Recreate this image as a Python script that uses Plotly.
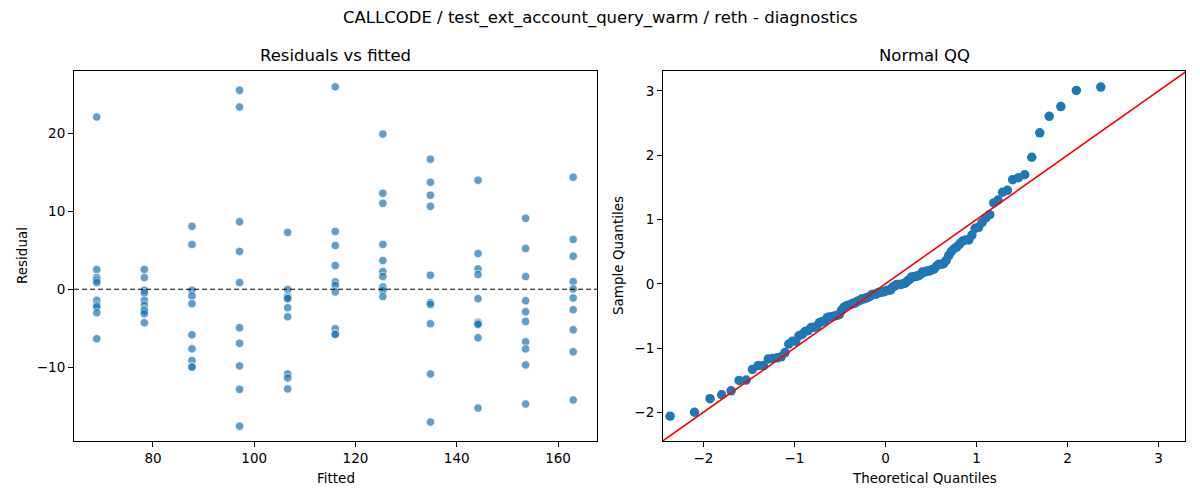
import plotly.graph_objects as go
from statistics import NormalDist
import numpy as np

# ---- data ----
fitted_levels = [68.9, 78.3, 87.7, 97.1, 106.6, 116.0, 125.4, 134.8, 144.2, 153.6, 163.0]

resid_by_level = [
    [22.15, 2.54, 1.51, 1.16, 0.86, -1.42, -2.06, -2.28, -3.00, -6.36],
    [2.54, 1.51, -0.13, -0.47, -1.42, -2.06, -2.62, -2.80, -3.14, -4.30],
    [8.09, 5.77, -0.13, -0.86, -1.85, -5.85, -7.65, -9.16, -9.94, -10.00],
    [25.59, 23.44, 8.68, 4.86, 0.86, -4.94, -6.93, -9.85, -12.86, -17.59],
    [7.31, -0.04, -0.90, -1.10, -1.20, -2.36, -3.52, -10.88, -11.40, -12.80],
    [26.03, 7.44, 5.63, 3.05, 0.95, 0.52, -0.34, -5.07, -5.72, -5.81],
    [19.96, 12.34, 11.05, 5.77, 3.70, 2.28, 1.64, 0.30, -0.13, -0.94],
    [16.73, 13.76, 12.09, 10.67, 1.81, -1.72, -1.94, -4.43, -10.88, -17.07],
    [14.02, 4.60, 2.62, 1.89, -1.20, -4.22, -4.40, -4.52, -6.24, -15.27],
    [9.12, 5.25, 1.64, -1.46, -2.88, -4.13, -6.75, -7.66, -9.72, -14.75],
    [14.41, 6.41, 4.26, 0.99, 0.04, -1.12, -2.62, -5.20, -8.04, -14.23],
]

left_xticks = [80, 100, 120, 140, 160]
left_yticks = [-10, 0, 10, 20]
qq_ticks = [-2, -1, 0, 1, 2, 3]

title_text = "CALLCODE / test_ext_account_query_warm / reth - diagnostics"

# ---- derived series ----
fitted = []
resid = []
for f, rs in zip(fitted_levels, resid_by_level):
    for r in rs:
        fitted.append(f)
        resid.append(r)

r_arr = np.array(resid)
sample_q = np.sort((r_arr - r_arr.mean()) / r_arr.std())
n = len(sample_q)
nd = NormalDist()
theo_q = [nd.inv_cdf(i / (n + 1)) for i in range(1, n + 1)]

BLUE = "#1f77b4"
FONT = "DejaVu Sans"

fig = go.Figure()

fig.add_trace(go.Scatter(
    x=fitted, y=resid, mode="markers", xaxis="x", yaxis="y",
    marker=dict(color=BLUE, size=8.5, opacity=0.7, line=dict(color="white", width=0.8)),
    showlegend=False, hoverinfo="x+y"))

fig.add_trace(go.Scatter(
    x=[64.4, 167.7], y=[0, 0], mode="lines", xaxis="x", yaxis="y",
    line=dict(color="black", width=1.1, dash="5px,3px"),
    showlegend=False, hoverinfo="skip"))

fig.add_trace(go.Scatter(
    x=theo_q, y=list(sample_q), mode="markers", xaxis="x2", yaxis="y2",
    marker=dict(color=BLUE, size=9.5),
    showlegend=False))

fig.add_trace(go.Scatter(
    x=[-2.6, 3.5], y=[-2.6, 3.5], mode="lines", xaxis="x2", yaxis="y2",
    line=dict(color="red", width=1.6),
    showlegend=False, hoverinfo="skip"))

axis_common = dict(
    showgrid=False, zeroline=False, showline=True, linecolor="black", linewidth=1.1,
    mirror=True, ticks="outside", ticklen=5, tickwidth=1.1, tickcolor="black",
    tickfont=dict(family=FONT, size=13.5, color="black"),
)

ydom = [1 - 441 / 500, 1 - 71 / 500]

fig.update_layout(
    width=1200, height=500,
    margin=dict(l=0, r=0, t=0, b=0),
    paper_bgcolor="white", plot_bgcolor="white",
    font=dict(family=FONT, color="black"),
    xaxis=dict(axis_common, domain=[74 / 1200, 597 / 1200], range=[64.4, 167.7],
               tickvals=left_xticks, anchor="y"),
    yaxis=dict(axis_common, domain=ydom, range=[-19.5, 28.06],
               tickvals=left_yticks, anchor="x"),
    xaxis2=dict(axis_common, domain=[663 / 1200, 1185 / 1200], range=[-2.443, 3.29],
                tickvals=qq_ticks, anchor="y2"),
    yaxis2=dict(axis_common, domain=ydom, range=[-2.446, 3.31],
                tickvals=qq_ticks, anchor="x2"),
    showlegend=False,
)

ann = [
    dict(text=title_text, x=0.5, y=1 - 18 / 500, size=16.5),
    dict(text="Residuals vs fitted", x=335.5 / 1200, y=1 - 56 / 500, size=16.5),
    dict(text="Normal QQ", x=924 / 1200, y=1 - 56 / 500, size=16.5),
    dict(text="Fitted", x=335.5 / 1200, y=1 - 478 / 500, size=13.5),
    dict(text="Theoretical Quantiles", x=924 / 1200, y=1 - 478 / 500, size=13.5),
]
for a in ann:
    fig.add_annotation(text=a["text"], x=a["x"], y=a["y"], xref="paper", yref="paper",
                       xanchor="center", yanchor="middle", showarrow=False,
                       font=dict(family=FONT, size=a["size"], color="black"))

fig.add_annotation(text="Residual", x=22 / 1200, y=1 - 256 / 500, xref="paper", yref="paper",
                   xanchor="center", yanchor="middle", showarrow=False, textangle=-90,
                   font=dict(family=FONT, size=13.5, color="black"))
fig.add_annotation(text="Sample Quantiles", x=618 / 1200, y=1 - 256 / 500, xref="paper", yref="paper",
                   xanchor="center", yanchor="middle", showarrow=False, textangle=-90,
                   font=dict(family=FONT, size=13.5, color="black"))

fig.write_html(
    "out.html",
    config={"displayModeBar": False},
    post_script="document.body.style.margin='0';document.body.style.padding='0';"
                "document.body.style.overflow='hidden';",
)
